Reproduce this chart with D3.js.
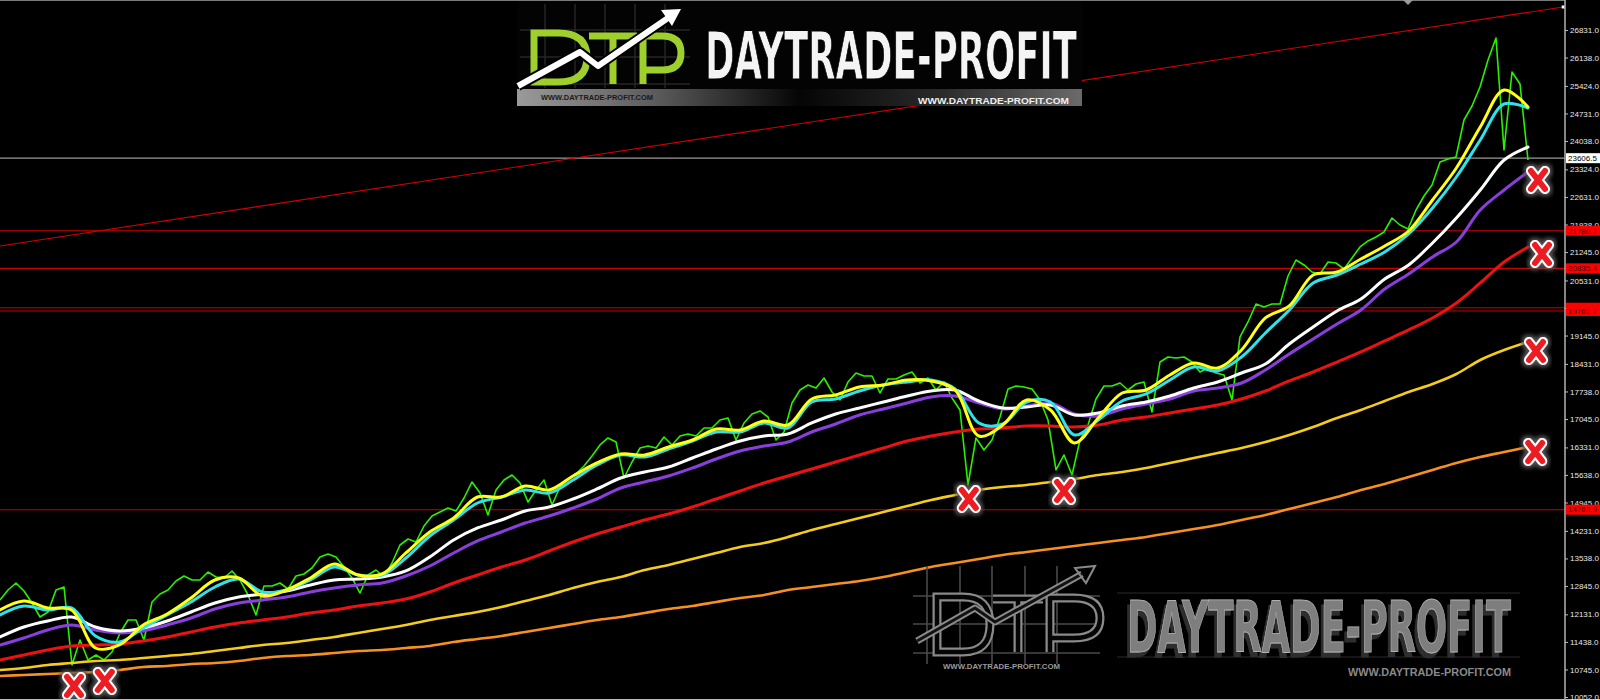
<!DOCTYPE html>
<html><head><meta charset="utf-8">
<script src="https://cdn.jsdelivr.net/npm/d3@7/dist/d3.min.js"></script>
<style>html,body{margin:0;padding:0;background:#000;overflow:hidden}</style>
</head><body>
<svg id="chart" width="1600" height="700"></svg>
<script>
// ---------------- DATA ----------------
const priceClose = [
12492,12744,12920,12719,12417,12064,12190,12744,12819,10857,
11486,10983,11109,10983,11184,11663,11989,11989,11486,12442,
12643,12744,12970,13096,12995,12995,13197,13071,13046,13222,
12995,12618,12115,12844,12844,12920,12769,13096,13146,13297,
13574,13649,13574,13323,13046,12668,13121,13247,13071,13423,
13876,14027,13951,14354,14605,14706,14807,14731,15058,15461,
15184,14630,15260,15511,15637,15436,14958,15260,15511,14882,
15335,15536,15662,15863,16115,16392,16568,16467,15561,15964,
16316,16366,16316,16593,16392,16618,16668,16618,16819,16819,
17020,17071,16517,16945,17171,17247,17096,16517,16718,17448,
17775,17901,17825,18077,17725,17524,17977,18203,18127,18127,
17700,18052,18052,18153,18228,17951,18077,17775,17977,17574,
17272,15385,16568,16266,16517,17096,17800,17876,17851,17800,
17524,17020,15763,16140,15637,16517,16894,17549,17876,17876,
17951,17775,17926,17977,17222,18479,18605,18580,18605,18479,
18228,18328,18203,18153,17524,19109,19486,19939,19863,19939,
19939,20643,21045,20920,20743,20693,20995,20970,20819,21096,
21373,21524,21624,21750,22102,21926,21825,22303,22655,22932,
23510,23586,23636,24567,24919,25397,26077,26630,23813,25775,
25473,23561];

const maYellow = [
12241,12467,12291,12241,11285,11361,11864,12140,12543,12995,
13046,12593,12744,13046,13398,13121,13146,13675,14203,14555,
15083,15083,15360,15260,15612,15939,16165,16140,16341,16517,
16794,16769,16995,16894,17549,17650,17851,17901,18027,18002,
17775,16618,16894,17524,17272,16442,17071,17700,17775,18153,
18454,18328,18781,19587,19889,20668,20743,21070,21398,21775,
22555,23360,24391,25322,24894];

const maCyan = [
12115,12341,12241,12291,11587,11436,11788,12115,12442,12819,
13020,12693,12744,12995,13323,13121,13121,13549,14102,14505,
14932,15083,15260,15184,15511,15888,16140,16089,16291,16492,
16718,16718,16945,16819,17473,17549,17750,17901,17977,18027,
17800,16945,16920,17473,17473,16643,17020,17498,17675,18027,
18354,18253,18605,19208,19788,20467,20668,20945,21247,21699,
22354,23133,24064,24970,24869];

const maWhite = [
11562,11813,11964,12064,11813,11713,11788,11964,12190,12417,
12568,12643,12719,12870,12995,13020,13071,13222,13574,14002,
14304,14505,14731,14832,15033,15285,15561,15712,15838,16064,
16291,16492,16618,16668,16945,17171,17322,17473,17624,17750,
17775,17498,17322,17347,17398,17146,17197,17373,17473,17624,
17825,17977,18203,18429,18932,19360,19762,20064,20567,20920,
21473,22102,22806,23561,23888];

const maPurple = [
11361,11537,11738,11864,11738,11663,11713,11864,12039,12266,
12417,12492,12568,12693,12794,12870,12920,13096,13348,13675,
13977,14203,14429,14605,14807,15033,15310,15461,15612,15813,
16039,16240,16366,16467,16718,16920,17146,17297,17448,17599,
17624,17448,17297,17373,17448,17171,17121,17297,17423,17549,
17750,17825,17951,18278,18681,19058,19436,19788,20316,20693,
21121,21498,22303,22806,23259];

const maRed = [
10983,11109,11235,11335,11361,11386,11461,11562,11688,11813,
11914,11989,12064,12165,12241,12341,12417,12517,12693,12920,
13121,13323,13499,13725,13951,14153,14329,14505,14656,14832,
15033,15234,15436,15612,15788,15964,16140,16316,16492,16618,
16718,16794,16819,16869,16869,16844,16894,17020,17096,17197,
17297,17398,17549,17750,18002,18228,18479,18731,19008,19285,
19587,19964,20467,20995,21372];

const maGold = [
10731,10781,10857,10907,10958,10983,11033,11084,11134,11210,
11285,11361,11411,11486,11562,11663,11763,11864,11989,12090,
12190,12316,12467,12618,12794,12945,13071,13247,13373,13524,
13675,13826,13926,14077,14253,14404,14555,14706,14857,15008,
15134,15260,15335,15385,15461,15536,15637,15712,15813,15939,
16064,16190,16316,16467,16643,16844,17071,17272,17498,17725,
17926,18178,18530,18781,18982];

const maOrange = [
10580,10605,10630,10656,10681,10731,10807,10832,10882,10907,
10958,11033,11084,11109,11159,11210,11235,11285,11335,11436,
11512,11587,11688,11788,11889,11989,12064,12165,12266,12341,
12442,12543,12618,12744,12819,12895,12970,13071,13197,13323,
13423,13524,13624,13700,13775,13851,13926,14002,14077,14177,
14278,14379,14505,14630,14781,14932,15083,15260,15411,15587,
15763,15939,16089,16215,16341];

const tickValues = [26831,26138,25424,24731,24038,23324,22631,21938,21245,20531,19838,19145,18431,17738,17045,16331,15638,14945,14231,13538,12845,12131,11438,10745,10052];
const tickLabels = ["26831.0","26138.0","25424.0","24731.0","24038.0","23324.0","22631.0","21938.0","21245.0","20531.0","19838.0","19145.0","18431.0","17738.0","17045.0","16331.0","15638.0","14945.0","14231.0","13538.0","12845.0","12131.0","11438.0","10745.0","10052.0"];

const levelValues = [23606.5, 21780.7, 20835.4, 19845.0, 19762.7, 14763.9];
const levelLabels = ["23606.5","21780.7","20835.4","19845.0","19762.7","14763.9"];
const levelKinds  = ["gray","red","red","red","red","red"];

const trendIndex = [0, 195.4];
const trendValues = [21398, 27410];

const markIndex  = [192.25, 192.75, 192, 191.9, 121.1, 133, 9.25, 13.1];
const markValues = [23058, 21196, 18756, 16215, 15033, 15234, 10329, 10455];

const logoTitle = "DAYTRADE-PROFIT";
const logoUrl = "WWW.DAYTRADE-PROFIT.COM";

// ---------------- CHART ----------------
const svg = d3.select("#chart");
const W = 1600, H = 700, axisX = 1565, plotRight = 1528;

const y = d3.scaleLinear().domain([10052, 26831]).range([697, 30]);
const xP = d3.scaleLinear().domain([0, priceClose.length - 1]).range([0, plotRight]);
const xM = d3.scaleLinear().domain([0, maYellow.length - 1]).range([0, plotRight]);

const defs = svg.append("defs");
const sh = defs.append("filter").attr("id","xshadow").attr("x","-60%").attr("y","-60%").attr("width","220%").attr("height","220%");
sh.append("feMorphology").attr("in","SourceAlpha").attr("operator","dilate").attr("radius",2).attr("result","d");
sh.append("feGaussianBlur").attr("in","d").attr("stdDeviation",2.2).attr("result","b");
sh.append("feFlood").attr("flood-color","#555").attr("result","c");
sh.append("feComposite").attr("in","c").attr("in2","b").attr("operator","in").attr("result","s");
const mg = sh.append("feMerge"); mg.append("feMergeNode").attr("in","s"); mg.append("feMergeNode").attr("in","SourceGraphic");

const ts = defs.append("filter").attr("id","tshadow").attr("x","-5%").attr("y","-20%").attr("width","110%").attr("height","140%");
ts.append("feOffset").attr("in","SourceAlpha").attr("dx",-3).attr("dy",3).attr("result","o");
ts.append("feFlood").attr("flood-color","#2e2e2e").attr("result","c");
ts.append("feComposite").attr("in","c").attr("in2","o").attr("operator","in").attr("result","s");
const tm = ts.append("feMerge"); tm.append("feMergeNode").attr("in","s"); tm.append("feMergeNode").attr("in","SourceGraphic");

const strip = defs.append("linearGradient").attr("id","strip").attr("x1","0").attr("x2","1");
strip.append("stop").attr("offset","0").attr("stop-color","#9a9a9a");
strip.append("stop").attr("offset","0.25").attr("stop-color","#5a5a5a");
strip.append("stop").attr("offset","0.5").attr("stop-color","#050505");
strip.append("stop").attr("offset","0.75").attr("stop-color","#2a2a2a");
strip.append("stop").attr("offset","1").attr("stop-color","#6a6a6a");

svg.append("rect").attr("width",W).attr("height",H).attr("fill","#000");

// level lines
const lv = svg.append("g");
levelValues.forEach((v,i)=>{
  lv.append("line").attr("x1",0).attr("x2",axisX).attr("y1",y(v)).attr("y2",y(v))
    .attr("stroke", levelKinds[i]==="gray" ? "#9a9a9a" : "#c80000")
    .attr("stroke-width", levelKinds[i]==="gray" ? 1.3 : 1.1);
});

// trend line
svg.append("line")
  .attr("x1", xP(trendIndex[0])).attr("y1", y(trendValues[0]))
  .attr("x2", xP(trendIndex[1])).attr("y2", y(trendValues[1]))
  .attr("stroke","#d00000").attr("stroke-width",1.1);
svg.append("rect").attr("x", xP(trendIndex[1])-1.5).attr("y", y(trendValues[1])-1.5)
  .attr("width",3).attr("height",3).attr("fill","#fff");

// price
const lineP = d3.line().x((d,i)=>xP(i)).y(d=>y(d));
svg.append("path").datum(priceClose).attr("d",lineP)
  .attr("fill","none").attr("stroke","#2af000").attr("stroke-width",1.6).attr("stroke-linejoin","round");

// moving averages
const lineM = d3.line().x((d,i)=>xM(i)).y(d=>y(d)).curve(d3.curveCatmullRom.alpha(0.5));
const mas = [
  [maOrange,"#f7901e",2.6],
  [maGold,"#f5cc1a",2.6],
  [maRed,"#ee1111",3],
  [maPurple,"#8a3fdc",3],
  [maWhite,"#ffffff",3],
  [maCyan,"#30e2ea",3],
  [maYellow,"#ffff1a",3]
];
mas.forEach(([arr,col,w])=>{
  svg.append("path").datum(arr).attr("d",lineM)
    .attr("fill","none").attr("stroke",col).attr("stroke-width",w)
    .attr("stroke-linejoin","round").attr("stroke-linecap","round");
});

// ---------------- TOP LOGO ----------------
const tl = svg.append("g");
tl.append("rect").attr("x",517).attr("y",0).attr("width",565).attr("height",106).attr("fill","#030303");
[545,575,605,635,665].forEach(x=>tl.append("line").attr("x1",x).attr("x2",x).attr("y1",4).attr("y2",88).attr("stroke","#262626").attr("stroke-width",1.5));
[30,57,84].forEach(yy=>tl.append("line").attr("x1",520).attr("x2",690).attr("y1",yy).attr("y2",yy).attr("stroke","#262626").attr("stroke-width",1.5));
tl.append("rect").attr("x",517).attr("y",89).attr("width",565).attr("height",17).attr("fill","url(#strip)");
const lime = "#9fcf2c";
tl.append("path").attr("d","M534,33 L534,82 L558,82 Q587,82 587,57.5 Q587,33 558,33 Z")
  .attr("fill","none").attr("stroke",lime).attr("stroke-width",7);
tl.append("path").attr("d","M589,36 L637,36 M613,36 L613,84")
  .attr("fill","none").attr("stroke",lime).attr("stroke-width",7);
tl.append("path").attr("d","M643,84 L643,36 L662,36 Q681,36 681,53 Q681,70 662,70 L643,70")
  .attr("fill","none").attr("stroke",lime).attr("stroke-width",7);
tl.append("polyline").attr("points","518,86 580,52 598,66 668,18")
  .attr("fill","none").attr("stroke","#000").attr("stroke-width",10).attr("stroke-linejoin","round");
tl.append("polyline").attr("points","518,86 580,52 598,66 668,18")
  .attr("fill","none").attr("stroke","#fff").attr("stroke-width",6).attr("stroke-linejoin","round");
tl.append("polygon").attr("points","681,9 672,26 661,10").attr("fill","#fff");
tl.append("text").attr("transform","translate(705,79) scale(1,1.65)").text(logoTitle)
  .attr("font-family","'DejaVu Sans Condensed','DejaVu Sans',sans-serif").attr("font-weight","bold")
  .attr("font-size",40).attr("textLength",372).attr("lengthAdjust","spacingAndGlyphs")
  .attr("fill","#f4f4f4").attr("stroke","#000").attr("stroke-width",0.6);
tl.append("text").attr("x",541).attr("y",100).text(logoUrl)
  .attr("font-family","'Liberation Sans',Arial,sans-serif").attr("font-weight","bold")
  .attr("font-size",7.5).attr("textLength",112).attr("lengthAdjust","spacingAndGlyphs").attr("fill","#1a1a1a");
tl.append("text").attr("x",918).attr("y",104).text(logoUrl)
  .attr("font-family","'Liberation Sans',Arial,sans-serif").attr("font-weight","bold")
  .attr("font-size",9.5).attr("textLength",151).attr("lengthAdjust","spacingAndGlyphs").attr("fill","#f0f0f0");

// ---------------- BOTTOM LOGO ----------------
const bl = svg.append("g");
[927,960,992,1025,1057].forEach(x=>bl.append("line").attr("x1",x).attr("x2",x).attr("y1",566).attr("y2",664).attr("stroke","#4a4a4a").attr("stroke-width",1.6));
[596,624,653].forEach(yy=>bl.append("line").attr("x1",913).attr("x2",1100).attr("y1",yy).attr("y2",yy).attr("stroke","#4a4a4a").attr("stroke-width",1.6));
bl.append("line").attr("x1",1117).attr("x2",1520).attr("y1",593).attr("y2",593).attr("stroke","#2a2a2a");
bl.append("line").attr("x1",1117).attr("x2",1520).attr("y1",657).attr("y2",657).attr("stroke","#2a2a2a");
const dtpB = ["M937,597 L937,652 L963,652 Q990,652 990,624.5 Q990,597 963,597 Z",
              "M993,599 L1043,599 M1018,599 L1018,652",
              "M1050,652 L1050,598 L1074,598 Q1100,598 1100,618 Q1100,638 1074,638 L1050,638"];
dtpB.forEach(d=>{
  bl.append("path").attr("d",d).attr("fill","none").attr("stroke","#8a8a8a").attr("stroke-width",9);
  bl.append("path").attr("d",d).attr("fill","none").attr("stroke","#050505").attr("stroke-width",4.5);
});
bl.append("polyline").attr("points","917,641 975,608 995,622 1082,574")
  .attr("fill","none").attr("stroke","#8a8a8a").attr("stroke-width",7).attr("stroke-linejoin","round");
bl.append("polyline").attr("points","917,641 975,608 995,622 1082,574")
  .attr("fill","none").attr("stroke","#111").attr("stroke-width",3).attr("stroke-linejoin","round");
bl.append("polygon").attr("points","1095,566 1086,583 1075,568").attr("fill","none").attr("stroke","#8a8a8a").attr("stroke-width",2);
bl.append("text").attr("transform","translate(1127,652) scale(1,1.72)").text(logoTitle)
  .attr("font-family","'DejaVu Sans Condensed','DejaVu Sans',sans-serif").attr("font-weight","bold")
  .attr("font-size",41).attr("textLength",384).attr("lengthAdjust","spacingAndGlyphs")
  .attr("fill","#7e7e7e").attr("stroke","#b0b0b0").attr("stroke-width",0.5).attr("filter","url(#tshadow)");
bl.append("text").attr("x",943).attr("y",669).text(logoUrl)
  .attr("font-family","'Liberation Sans',Arial,sans-serif").attr("font-weight","bold")
  .attr("font-size",8).attr("textLength",117).attr("lengthAdjust","spacingAndGlyphs").attr("fill","#9a9a9a");
bl.append("text").attr("x",1348).attr("y",676).text(logoUrl)
  .attr("font-family","'Liberation Sans',Arial,sans-serif").attr("font-weight","bold")
  .attr("font-size",10).attr("textLength",163).attr("lengthAdjust","spacingAndGlyphs").attr("fill","#8a8a8a");

// ---------------- X MARKS ----------------
const mk = svg.append("g");
markIndex.forEach((mi,i)=>{
  const g = mk.append("g").attr("transform",`translate(${xP(mi)},${y(markValues[i])})`).attr("filter","url(#xshadow)");
  const d = "M-7,-9 L7,9 M7,-9 L-7,9";
  g.append("path").attr("d",d).attr("stroke","#fff").attr("stroke-width",10).attr("stroke-linecap","round");
  g.append("path").attr("d",d).attr("stroke","#ec1c24").attr("stroke-width",6).attr("stroke-linecap","round");
});

// ---------------- FRAME & AXIS ----------------
svg.append("rect").attr("x",axisX).attr("y",0).attr("width",W-axisX).attr("height",H).attr("fill","#000");
svg.append("line").attr("x1",0).attr("x2",axisX).attr("y1",0.5).attr("y2",0.5).attr("stroke","#7a7a7a");
svg.append("line").attr("x1",0).attr("x2",W).attr("y1",699.5).attr("y2",699.5).attr("stroke","#bdbdbd");
svg.append("line").attr("x1",axisX).attr("x2",axisX).attr("y1",0).attr("y2",H).attr("stroke","#a8a8a8").attr("stroke-width",1.6);
svg.append("polygon").attr("points","1403,0 1413,0 1408,5").attr("fill","#9a9a9a");

const axis = d3.axisRight(y).tickValues(tickValues).tickFormat((d,i)=>tickLabels[i]).tickSize(3).tickPadding(2);
const ag = svg.append("g").attr("transform",`translate(${axisX},0)`).call(axis);
ag.select(".domain").remove();
ag.selectAll(".tick line").attr("stroke","#bbb");
ag.selectAll(".tick text").attr("fill","#e8e8e8").attr("font-size",8).attr("font-family","'Liberation Sans',Arial,sans-serif");

// level labels
levelValues.forEach((v,i)=>{
  const gray = levelKinds[i]==="gray";
  svg.append("rect").attr("x",axisX+1).attr("y",y(v)-5).attr("width",W-axisX-1).attr("height",10)
    .attr("fill", gray ? "#ffffff" : "#ff0000");
  svg.append("text").attr("x",axisX+3).attr("y",y(v)).attr("dy","0.35em").text(levelLabels[i])
    .attr("font-size",8).attr("font-family","'Liberation Sans',Arial,sans-serif")
    .attr("fill", gray ? "#000" : "#4a0000");
});
</script>
</body></html>
